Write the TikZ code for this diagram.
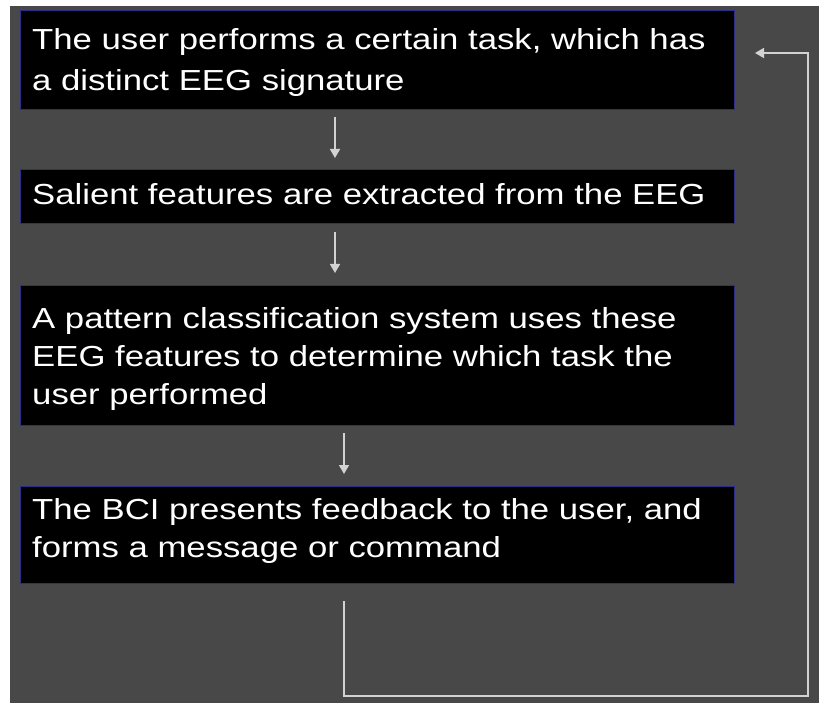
\documentclass[tikz,border=0pt]{standalone}
\usepackage{fontspec}
\setmainfont{Liberation Sans}
\usetikzlibrary{arrows.meta}
\definecolor{panel}{HTML}{484848}
\definecolor{edgeblue}{HTML}{2E2E88}
\definecolor{wire}{HTML}{D2D2D2}
\tikzset{
  stage/.style={draw=edgeblue, line width=1.2pt, fill=black, inner sep=0pt, minimum width=714pt},
  label/.style={anchor=base west, inner sep=0pt, text=white},
  flow/.style={draw=wire, line width=1.6pt, -{Triangle[width=10pt,length=9pt]}},
}
% stretched sans text block
\newcommand{\slidetext}[2]{\scalebox{1.197}[1]{\fontsize{29}{#1}\selectfont\begin{tabular}[t]{@{}l@{}}#2\end{tabular}}}
\begin{document}
\begin{tikzpicture}[x=1pt,y=-1pt]
  \useasboundingbox (0,0) rectangle (819,703);
  \fill[white] (0,0) rectangle (819,703);
  \fill[panel] (10,6) rectangle (819,703);

  \node[stage, anchor=north west, minimum height=99pt] (s1) at (20,10) {};
  \node[stage, anchor=north west, minimum height=54pt] (s2) at (20,169) {};
  \node[stage, anchor=north west, minimum height=140pt] (s3) at (20,285) {};
  \node[stage, anchor=north west, minimum height=97pt] (s4) at (20,486) {};

  \node[label] (t1) at (32,50) {\slidetext{41pt}{The user performs a certain task, which has\\a distinct EEG signature}};
  \node[label] (t2) at (32,205) {\slidetext{38pt}{Salient features are extracted from the EEG}};
  \node[label] (t3) at (32,328) {\slidetext{38pt}{A pattern classification system uses these\\EEG features to determine which task the\\user performed}};
  \node[label] (t4) at (32,519) {\slidetext{38pt}{The BCI presents feedback to the user, and\\forms a message or command}};

  \coordinate (a1s) at (335,117);
  \coordinate (a1e) at (335,158);
  \coordinate (a2s) at (335,232);
  \coordinate (a2e) at (335,273);
  \coordinate (a3s) at (344,433);
  \coordinate (a3e) at (344,474);
  \coordinate (fbs) at (344,601);
  \coordinate (fbe) at (755,53);

  \draw[flow] (a1s) -- (a1e);
  \draw[flow] (a2s) -- (a2e);
  \draw[flow] (a3s) -- (a3e);
  \draw[flow] (fbs) |- (808,696) |- (fbe);
\end{tikzpicture}
\end{document}
